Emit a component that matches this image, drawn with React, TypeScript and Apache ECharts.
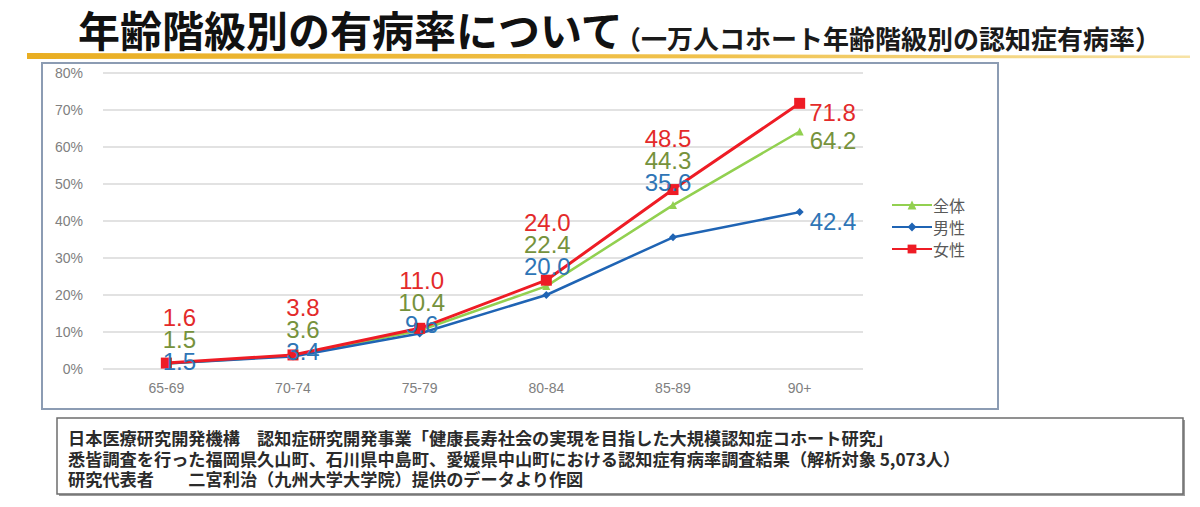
import React, { useEffect, useRef } from "react";
import * as echarts from "echarts";

const categories = ["65-69", "70-74", "75-79", "80-84", "85-89", "90+"];
const totalValues = [1.5, 3.6, 10.4, 22.4, 44.3, 64.2];
const maleValues = [1.5, 3.4, 9.6, 20.0, 35.6, 42.4];
const femaleValues = [1.6, 3.8, 11.0, 24.0, 48.5, 71.8];
const seriesNames = ["全体", "男性", "女性"];
const yTicks = { min: 0, max: 80, interval: 10 };

// label nudges [dx, dy] for the stacked value labels above each age group
const labelNudges = [
  [13, 9],
  [10, 7],
  [2, 7],
  [1, -3],
  [-5, 3],
];

const titleMain = "年齢階級別の有病率について";
const titleSub = "（一万人コホート年齢階級別の認知症有病率）";
const noteLines = [
  "日本医療研究開発機構　認知症研究開発事業「健康長寿社会の実現を目指した大規模認知症コホート研究」",
  "悉皆調査を行った福岡県久山町、石川県中島町、愛媛県中山町における認知症有病率調査結果（解析対象 5,073人）",
  "研究代表者　　二宮利治（九州大学大学院）提供のデータより作図",
];

const RED = "#EE1C25";
const RED_LABEL = "#E32A2A";
const GREEN = "#92D050";
const GREEN_LABEL = "#76923C";
const BLUE = "#1F64B4";
const BLUE_LABEL = "#2E75B6";
const NUM_FONT = "'Liberation Sans', Arial, sans-serif";
const JP_FONT = "'Noto Sans CJK JP', sans-serif";

export default function App() {
  const ref = useRef<HTMLDivElement>(null);
  useEffect(() => {
    if (!ref.current) return;
    const chart = echarts.init(ref.current, null, { renderer: "svg" });
    const last = categories.length - 1;
    const fmt = (v: number) => v.toFixed(1);

    const sideLabel = (color: string, dist: number) => ({
      show: true,
      position: "right",
      distance: dist,
      offset: [0, 9],
      color,
      fontSize: 24,
      fontFamily: NUM_FONT,
      formatter: (p: any) => fmt(p.value),
    });

    const greenData = totalValues.map((v, i) =>
      i === last ? { value: v, label: sideLabel(GREEN_LABEL, 6) } : { value: v }
    );
    const blueData = maleValues.map((v, i) =>
      i === last ? { value: v, label: sideLabel(BLUE_LABEL, 6) } : { value: v }
    );
    const redData = femaleValues.map((v, i) => {
      if (i === last) return { value: v, label: sideLabel(RED_LABEL, 4) };
      const n = labelNudges[i] || [0, 0];
      return {
        value: v,
        label: {
          show: true,
          position: "top",
          distance: 0,
          offset: [n[0], n[1] + 6],
          formatter: `{r|${fmt(femaleValues[i])}}\n{g|${fmt(totalValues[i])}}\n{b|${fmt(maleValues[i])}}`,
          rich: {
            r: { color: RED_LABEL, fontSize: 24, lineHeight: 22, fontFamily: NUM_FONT, align: "center" },
            g: { color: GREEN_LABEL, fontSize: 24, lineHeight: 22, fontFamily: NUM_FONT, align: "center" },
            b: { color: BLUE_LABEL, fontSize: 24, lineHeight: 22, fontFamily: NUM_FONT, align: "center" },
          },
        },
      };
    });

    chart.setOption({
      animation: false,
      backgroundColor: "#ffffff",
      grid: { left: 103, right: 337, top: 73, bottom: 138, containLabel: false },
      legend: {
        orient: "vertical",
        left: 886,
        top: 192,
        itemWidth: 40,
        itemHeight: 11,
        itemGap: 6,
        textStyle: { color: "#595959", fontSize: 16, fontFamily: JP_FONT, padding: [0, 0, 0, -4] },
        data: seriesNames,
      },
      xAxis: {
        type: "category",
        data: categories,
        axisLine: { show: false },
        axisTick: { show: false },
        axisLabel: { color: "#808080", fontSize: 14, fontFamily: NUM_FONT, margin: 12 },
      },
      yAxis: {
        type: "value",
        min: yTicks.min,
        max: yTicks.max,
        interval: yTicks.interval,
        axisLabel: {
          formatter: "{value}%",
          color: "#808080",
          fontSize: 14,
          fontFamily: NUM_FONT,
          margin: 20,
        },
        axisLine: { show: false },
        axisTick: { show: false },
        splitLine: { lineStyle: { color: "#D9D9D9", width: 1.5 } },
      },
      series: [
        {
          name: seriesNames[0],
          type: "line",
          data: greenData,
          symbol: "triangle",
          symbolSize: 8,
          itemStyle: { color: GREEN },
          lineStyle: { color: GREEN, width: 2.5 },
          z: 2,
        },
        {
          name: seriesNames[1],
          type: "line",
          data: blueData,
          symbol: "diamond",
          symbolSize: 8,
          itemStyle: { color: BLUE },
          lineStyle: { color: BLUE, width: 2.5 },
          z: 3,
        },
        {
          name: seriesNames[2],
          type: "line",
          data: redData,
          symbol: "rect",
          symbolSize: 11,
          itemStyle: { color: RED },
          lineStyle: { color: RED, width: 3 },
          z: 4,
        },
      ],
      graphic: [
        {
          type: "text",
          left: 78,
          top: 7,
          style: {
            text: titleMain,
            font: `bold 42px ${JP_FONT}`,
            fill: "#111111",
          },
        },
        {
          type: "text",
          left: 615,
          top: 24,
          style: {
            text: titleSub,
            font: `bold 26px ${JP_FONT}`,
            fill: "#1a1a1a",
          },
        },
        {
          type: "polygon",
          shape: { points: [[27, 53], [1190, 55.5], [1190, 58], [27, 59]] },
          style: {
            fill: new echarts.graphic.LinearGradient(0, 0, 1, 0, [
              { offset: 0, color: "#E9AE22" },
              { offset: 0.6, color: "#F0C24E" },
              { offset: 1, color: "#F7E3A6" },
            ]),
          },
          silent: true,
        },
        {
          type: "rect",
          shape: { x: 42, y: 63, width: 956, height: 346 },
          style: { fill: "none", stroke: "#8C9CB3", lineWidth: 2 },
          silent: true,
          z: -1,
        },
        {
          type: "rect",
          shape: { x: 59, y: 420, width: 1126, height: 76 },
          style: { fill: "#9a9a9a", stroke: "none" },
          silent: true,
        },
        {
          type: "rect",
          shape: { x: 57, y: 418, width: 1126, height: 76 },
          style: { fill: "#ffffff", stroke: "#6e6e6e", lineWidth: 1.5 },
          silent: true,
        },
        ...noteLines.map((t, i) => ({
          type: "text",
          left: 68,
          top: 429 + i * 20.5,
          style: {
            text: t,
            font: `bold 17.2px ${JP_FONT}`,
            fill: "#2b2b2b",
          },
        })),
      ],
    });
    return () => chart.dispose();
  }, []);
  return (
    <div
      ref={ref}
      style={{ position: "absolute", left: 0, top: 0, width: 1200, height: 507 }}
    />
  );
}
